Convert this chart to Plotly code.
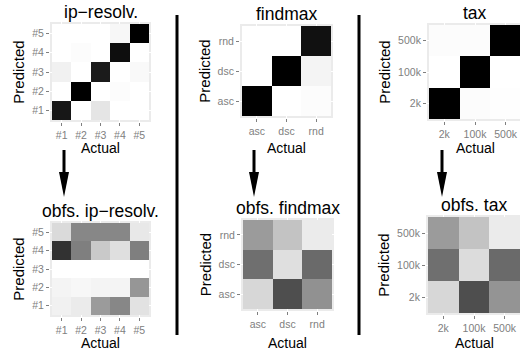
import plotly.graph_objects as go

# ---- data: rows = Predicted, columns = Actual (share of each actual class) ----
ip_labels = ["#1", "#2", "#3", "#4", "#5"]
ip_resolv = [
    [0.92, 0.00, 0.09, 0.00, 0.00],
    [0.00, 1.00, 0.00, 0.01, 0.00],
    [0.05, 0.00, 0.90, 0.00, 0.02],
    [0.00, 0.01, 0.00, 0.96, 0.00],
    [0.00, 0.00, 0.00, 0.03, 1.00],
]
obfs_ip_resolv = [
    [0.05, 0.07, 0.36, 0.44, 0.10],
    [0.04, 0.03, 0.04, 0.04, 0.38],
    [0.00, 0.00, 0.00, 0.00, 0.00],
    [0.79, 0.47, 0.19, 0.11, 0.47],
    [0.13, 0.44, 0.44, 0.44, 0.08],
]

findmax_labels = ["asc", "dsc", "rnd"]
findmax = [
    [1.00, 0.00, 0.01],
    [0.00, 1.00, 0.04],
    [0.00, 0.00, 0.95],
]
obfs_findmax = [
    [0.14, 0.67, 0.40],
    [0.53, 0.11, 0.55],
    [0.36, 0.21, 0.07],
]

tax_labels = ["2k", "100k", "500k"]
tax = [
    [1.00, 0.01, 0.005],
    [0.00, 1.00, 0.00],
    [0.01, 0.01, 1.00],
]
obfs_tax = [
    [0.14, 0.67, 0.39],
    [0.53, 0.12, 0.55],
    [0.36, 0.21, 0.07],
]

W, H = 520, 352


def lab_gray(v):
    """White-to-black gradient interpolated in CIE Lab lightness."""
    L = 100.0 * (1.0 - v)
    fy = (L + 16.0) / 116.0
    Y = fy ** 3 if fy ** 3 > 0.008856 else L / 903.3
    s = 1.055 * Y ** (1 / 2.4) - 0.055 if Y > 0.0031308 else 12.92 * Y
    g = max(0, min(255, round(255 * s)))
    return f"rgb({g},{g},{g})"


colorscale = [[i / 20, lab_gray(i / 20)] for i in range(21)]

FONT = "Liberation Sans"

# panels: (title, matrix, labels, box in pixels: x0, x1, y0(top), y1(bottom),
#          vertical centre of the "Actual" label)
panels = [
    ("ip\u2212resolv.", ip_resolv, ip_labels, (50, 151, 22, 122), 148),
    ("findmax", findmax, findmax_labels, (240, 333, 24, 118), 148),
    ("tax", tax, tax_labels, (427, 523, 23, 121), 148),
    ("obfs. ip\u2212resolv.", obfs_ip_resolv, ip_labels, (50, 151, 221, 317), 343),
    ("obfs. findmax", obfs_findmax, findmax_labels, (241, 334, 218, 311), 343),
    ("obfs. tax", obfs_tax, tax_labels, (426, 522, 215, 315), 343),
]

fig = go.Figure()
annotations = []
BORDER = 2.0  # px of grey panel visible around the tiles

for i, (title, z, labels, (x0, x1, y0, y1), ya) in enumerate(panels):
    n = len(labels)
    k = "" if i == 0 else str(i + 1)
    idx = list(range(n))
    fig.add_trace(go.Heatmap(
        z=z, x=idx, y=idx, colorscale=colorscale, zmin=0, zmax=1,
        showscale=False, xaxis="x" + k, yaxis="y" + k, hoverinfo="skip",
    ))
    # horizontal extent (may run past the right edge of the page)
    wpx = x1 - x0
    padx = BORDER * n / (wpx - 2 * BORDER)
    lo = -0.5 - padx
    hi = n - 0.5 + padx
    upx = (hi - lo) / wpx
    xr1 = min(x1, W)
    hi_vis = lo + (xr1 - x0) * upx
    hpx = y1 - y0
    pady = BORDER * n / (hpx - 2 * BORDER)

    axis_common = dict(
        showgrid=True, gridcolor="white", gridwidth=1, zeroline=False,
        ticks="outside", ticklen=3, tickwidth=1, tickcolor="#7f7f7f",
        tickfont=dict(family=FONT, size=10.5, color="#808080"),
        tickmode="array", tickvals=idx, ticktext=labels,
        showline=False, fixedrange=True,
    )
    fig.update_layout({
        "xaxis" + k: dict(
            axis_common, domain=[x0 / W, xr1 / W], range=[lo, hi_vis],
            anchor="y" + k,
        ),
        "yaxis" + k: dict(
            axis_common, domain=[1 - y1 / H, 1 - y0 / H],
            range=[-0.5 - pady, n - 0.5 + pady], anchor="x" + k,
            title=dict(text="Predicted", standoff=3,
                       font=dict(family=FONT, size=15, color="black")),
        ),
    })
    # panel title
    annotations.append(dict(
        text=title, xref="paper", yref="paper",
        x=(x0 + x1) / 2 / W, y=1 - (y0 - 10) / H,
        xanchor="center", yanchor="middle", showarrow=False,
        font=dict(family=FONT, size=17.5, color="black"),
    ))
    # x-axis title
    annotations.append(dict(
        text="Actual", xref="paper", yref="paper",
        x=(x0 + x1) / 2 / W, y=1 - ya / H,
        xanchor="center", yanchor="middle", showarrow=False,
        font=dict(family=FONT, size=14, color="black"),
    ))

# separators between the three programs and arrows to the obfuscated results
shapes = []
for sx in (177, 359):
    shapes.append(dict(type="line", xref="paper", yref="paper",
                       x0=sx / W, x1=sx / W, y0=1 - 15 / H, y1=1 - 335 / H,
                       line=dict(color="black", width=3)))
for ax in (64, 254, 442):
    top, head_top, tip, half = 150, 172, 197, 5
    shapes.append(dict(type="line", xref="paper", yref="paper",
                       x0=ax / W, x1=ax / W, y0=1 - top / H, y1=1 - (head_top + 2) / H,
                       line=dict(color="black", width=3)))
    path = (f"M {(ax - half) / W},{1 - head_top / H} "
            f"L {(ax + half) / W},{1 - head_top / H} "
            f"L {ax / W},{1 - tip / H} Z")
    shapes.append(dict(type="path", xref="paper", yref="paper", path=path,
                       fillcolor="black", line=dict(color="black", width=0)))

fig.update_layout(
    width=W, height=H, margin=dict(l=0, r=0, t=0, b=0),
    paper_bgcolor="white", plot_bgcolor="#ebebeb",
    annotations=annotations, shapes=shapes, showlegend=False,
    font=dict(family=FONT),
)

fig.write_html("out.html", config={"displayModeBar": False})
